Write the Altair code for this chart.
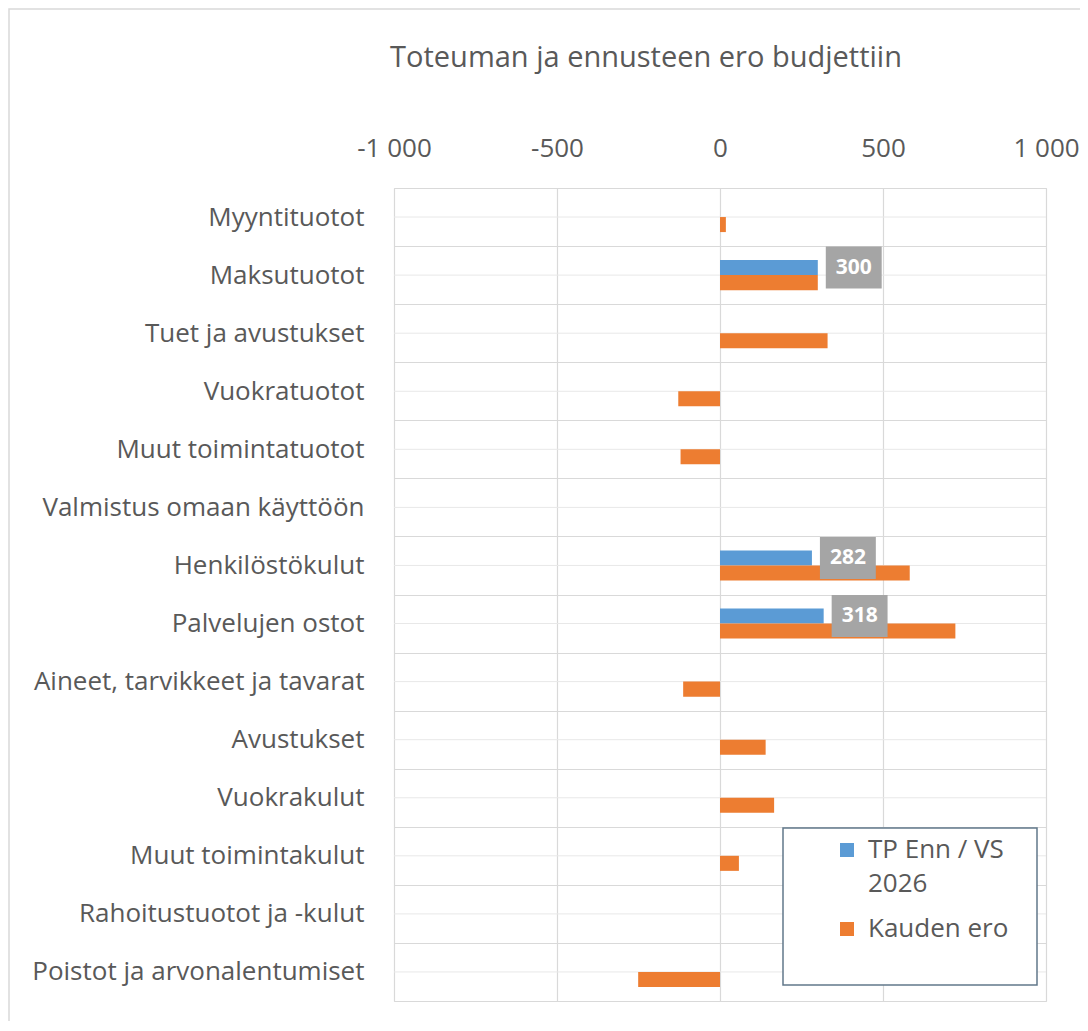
import altair as alt
import pandas as pd

categories = [
    "Myyntituotot",
    "Maksutuotot",
    "Tuet ja avustukset",
    "Vuokratuotot",
    "Muut toimintatuotot",
    "Valmistus omaan käyttöön",
    "Henkilöstökulut",
    "Palvelujen ostot",
    "Aineet, tarvikkeet ja tavarat",
    "Avustukset",
    "Vuokrakulut",
    "Muut toimintakulut",
    "Rahoitustuotot ja -kulut",
    "Poistot ja arvonalentumiset",
]
tp_enn_vs_2026 = [None, 300, None, None, None, None, 282, 318, None, None, None, None, None, None]
kauden_ero = [18, 300, 330, -128, -121, None, 582, 722, -113, 140, 166, 58, None, -251]
series_names = ["TP Enn / VS 2026", "Kauden ero"]
series_colors = ["#5b9bd5", "#ed7d31"]
x_ticks = [-1000, -500, 0, 500, 1000]
title_text = "Toteuman ja ennusteen ero budjettiin"

rows = []
for c, a, b in zip(categories, tp_enn_vs_2026, kauden_ero):
    if a is not None:
        rows.append({"cat": c, "series": series_names[0], "value": a})
    if b is not None:
        rows.append({"cat": c, "series": series_names[1], "value": b})
df = pd.DataFrame(rows)
labels_df = df[df["series"] == series_names[0]].reset_index(drop=True)
cat_df = pd.DataFrame({"cat": categories})
one_df = pd.DataFrame({"k": [0]})

FONT = "Open Sans"
TXT = "#595959"
GRID = "#d9d9d9"

y_scale = alt.Scale(domain=categories, paddingInner=0, paddingOuter=0)
y_axis = alt.Axis(
    title=None, labelFont=FONT, labelFontSize=26, labelColor=TXT, labelPadding=30,
    ticks=False, domain=False, grid=True, gridColor=GRID, gridWidth=1.2,
    tickBand="extent", labelLimit=500,
)
x_scale = alt.Scale(domain=[-1000, 1000], nice=False, zero=False)
x_axis = alt.Axis(
    orient="top", values=x_ticks, title=None,
    labelExpr="replace(toString(datum.value), '000', ' 000')",
    grid=True, gridColor=GRID, gridWidth=1.2, ticks=False, domain=False,
    labelFlush=False, labelOverlap=False,
    labelPadding=27, labelFont=FONT, labelFontSize=26, labelColor=TXT,
)
yoff = alt.YOffset("series:N", sort=series_names,
                   scale=alt.Scale(domain=series_names, paddingInner=0, paddingOuter=0.93))

y_enc = alt.Y("cat:N", sort=categories, scale=y_scale, axis=y_axis)
y_plain = alt.Y("cat:N", sort=categories, scale=y_scale)

outer = alt.Chart(one_df).mark_rect(fill="white", fillOpacity=0, stroke=GRID, strokeWidth=1.5).encode(
    x=alt.value(-385), x2=alt.value(800), y=alt.value(-179), y2=alt.value(1000)
)

mid = alt.Chart(cat_df).mark_rule(color="#e8e8e8", strokeWidth=1).encode(y=y_enc)

bars = alt.Chart(df).mark_bar().encode(
    x=alt.X("value:Q", scale=x_scale, axis=x_axis),
    y=y_plain,
    yOffset=yoff,
    color=alt.Color(
        "series:N",
        scale=alt.Scale(domain=series_names, range=series_colors),
        legend=alt.Legend(
            title=None, orient="none", legendX=440, legendY=649, padding=0,
            symbolType="square", symbolSize=196, symbolStrokeWidth=0,
            labelFont=FONT, labelFontSize=26, labelColor=TXT, labelOffset=8,
            rowPadding=19, labelLimit=400,
            labelExpr="datum.label == 'TP Enn / VS 2026' ? ['TP Enn / VS', '2026'] : datum.label",
        ),
    ),
)

legend_box = alt.Chart(one_df).mark_rect(fill="white", stroke="#61788a", strokeWidth=1.5).encode(
    x=alt.value(389), x2=alt.value(643), y=alt.value(640), y2=alt.value(797)
)

label_boxes = alt.Chart(labels_df).transform_calculate(
    x0="datum.value + 24.5", x1="datum.value + 196"
).mark_bar(height=42, color="#a5a5a5").encode(
    x=alt.X("x0:Q", scale=x_scale), x2="x1:Q", y=y_plain, yOffset=yoff
)

label_text = alt.Chart(labels_df).mark_text(
    font=FONT, fontSize=21, fontWeight="bold", color="white", dx=36, align="center", baseline="middle"
).encode(
    x=alt.X("value:Q", scale=x_scale), y=y_plain, yOffset=yoff, text=alt.Text("value:Q")
)

chart = alt.layer(outer, mid, bars, legend_box, label_boxes, label_text).properties(
    width=652, height=813,
    autosize=alt.AutoSizeParams(type="none"),
    padding={"left": 386, "top": 180, "right": 34, "bottom": 20},
    title=alt.TitleParams(
        text=title_text, font=FONT, fontSize=29, fontWeight="normal", color=TXT,
        anchor="middle", dx=-74, offset=-88, baseline="alphabetic",
    ),
).configure_view(stroke=None).configure(
    background="white", style={"guide-label": {"lineHeight": 34}}
)

chart.save("out.html", embed_options={"renderer": "svg", "actions": False})
